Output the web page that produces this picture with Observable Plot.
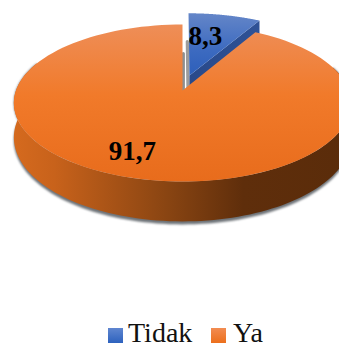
<!DOCTYPE html>
<html>
<head>
<meta charset="utf-8">
<script src="https://cdn.jsdelivr.net/npm/d3@7"></script>
<script src="https://cdn.jsdelivr.net/npm/@observablehq/plot@0.6"></script>
<style>
  html, body { margin: 0; padding: 0; background: #fff; overflow: hidden; }
  #legend { display: flex; height: 25px; font: 28px/20px "Liberation Serif", serif; color: #111; white-space: nowrap; position: relative; }
  #legend span.swatch { position: absolute; top: 10px; width: 15px; height: 15px; }
  #legend span.name { position: absolute; top: 4.5px; }
</style>
</head>
<body>
<div id="chart"></div>
<div id="legend"></div>
<script>
// Share of answers, in percent
const categories = ["Tidak", "Ya"];
const values = [8.3, 91.7];
const gradients = ["url(#blueTop)", "url(#orangeTop)"];

const width = 339, height = 318;

// Tilted-disc projection: u, v are unit-disc coordinates, lift is the drop below the top face
const cx = 182, cy = 90, rx = 166.5, ry = 76.5, tilt = 0.159, depth = 33.6;
const project = (u, v, lift = 0) => {
  const d = 1 + tilt * v;
  return {x: cx + rx * u / d, y: cy + (lift - ry * v) / d};
};

const slices = d3.pie().sort(null).value((d) => d)(values);
const [tidak, ya] = slices;
const pull = {u: 0.043, v: 0.202}; // the small slice is pulled out of the disc

const arcPoints = (a0, a1, lift = 0, shift = {u: 0, v: 0}) =>
  d3.range(0, 121).map((i) => {
    const a = a0 + (a1 - a0) * i / 120;
    return project(Math.sin(a) + shift.u, Math.cos(a) + shift.v, lift);
  });
const hub = (lift = 0, shift = {u: 0, v: 0}) => project(shift.u, shift.v, lift);

// Top faces
const yaFace = [hub(), ...arcPoints(ya.startAngle, ya.endAngle)];
const tidakFace = [hub(0, pull), ...arcPoints(tidak.startAngle, tidak.endAngle, 0, pull)];

// Outer wall of the large slice, front half only
const wallFrom = 1.25, wallTo = 5.1;
const yaWall = [...arcPoints(wallFrom, wallTo), ...arcPoints(wallFrom, wallTo, depth).reverse()];
const yaShadow = [...arcPoints(wallFrom, wallTo, 0), ...arcPoints(wallFrom, wallTo, depth + 2.5).reverse()];

// Cut face of the pulled slice, along its leading radius
const edge = (lift) => {
  const a = tidak.endAngle;
  return [hub(lift, pull), project(Math.sin(a) + pull.u, Math.cos(a) + pull.v, lift)];
};
const tidakCut = [...edge(0), ...edge(depth).reverse()];

// Thin shadows cast along the vertical radii behind each slice
const radiusShadow = (shift) => [project(shift.u, 1 + shift.v, depth), hub(depth, shift)];

// Value labels sit on each slice's bisector
const bisector = (s) => (s.startAngle + s.endAngle) / 2;
const labelAt = (s, r, shift = {u: 0, v: 0}) =>
  project(r * Math.sin(bisector(s)) + shift.u, r * Math.cos(bisector(s)) + shift.v);
const labels = [
  {...labelAt(tidak, 0.587, pull), text: String(values[0]).replace(".", ",")},
  {...labelAt(ya, 0.744), text: String(values[1]).replace(".", ",")}
];

const defs = () => {
  const el = d3.create("svg:defs");
  el.html(`
    <linearGradient id="orangeTop" x1="0" y1="0" x2="0" y2="1">
      <stop offset="0" stop-color="#ee8e58"/><stop offset="0.45" stop-color="#f17a2a"/><stop offset="1" stop-color="#e86c1c"/>
    </linearGradient>
    <linearGradient id="blueTop" x1="0" y1="0" x2="0" y2="1">
      <stop offset="0" stop-color="#6486c8"/><stop offset="0.6" stop-color="#3c6ac0"/><stop offset="1" stop-color="#2d5fba"/>
    </linearGradient>
    <linearGradient id="orangeWall" x1="0" y1="0" x2="1" y2="0">
      <stop offset="0" stop-color="#d56a1e"/><stop offset="0.12" stop-color="#c8621b"/><stop offset="0.45" stop-color="#8a4512"/>
      <stop offset="0.68" stop-color="#5f2e0b"/><stop offset="1" stop-color="#5a2c0a"/>
    </linearGradient>
    <linearGradient id="blueCut" x1="0" y1="0" x2="1" y2="0">
      <stop offset="0" stop-color="#29498a"/><stop offset="1" stop-color="#2f5296"/>
    </linearGradient>`);
  return el.node();
};

const outline = (points, fill, extra = {}) =>
  Plot.line(points, {x: "x", y: "y", fill, stroke: "none", ...extra});

const chart = Plot.plot({
  width, height,
  margin: 0,
  x: {domain: [0, width], range: [0, width], axis: null},
  y: {domain: [0, height], range: [0, height], axis: null},
  marks: [
    defs,
    outline(yaShadow, "#6e7378", {imageFilter: "blur(1.2px)"}),
    Plot.line(radiusShadow({u: 0, v: 0}), {x: "x", y: "y", stroke: "#8f8f8f", strokeWidth: 3.2, dx: 0.8, imageFilter: "blur(0.4px)"}),
    Plot.line(radiusShadow(pull), {x: "x", y: "y", stroke: "#9c9c9c", strokeWidth: 3.2, dx: -1.2, imageFilter: "blur(0.4px)"}),
    outline(tidakCut, "url(#blueCut)"),
    outline(tidakFace, gradients[0]),
    outline(yaWall, "url(#orangeWall)"),
    outline(yaFace, gradients[1]),
    Plot.text(labels.slice(0, 1), {x: "x", y: "y", text: "text", dx: -6, dy: -2, fontFamily: "Liberation Serif", fontWeight: "bold", fontSize: 27, fill: "#000"}),
    Plot.text(labels.slice(1), {x: "x", y: "y", text: "text", dx: -14, dy: -1, fontFamily: "Liberation Serif", fontWeight: "bold", fontSize: 27, fill: "#000"})
  ]
});
document.getElementById("chart").append(chart);

// Legend below the plot
const swatchFills = ["linear-gradient(#5f86d0,#2d62be)", "linear-gradient(#f28c52,#ec6f1c)"];
const swatchLeft = [108, 211];
const nameLeft = [128, 233];
const legend = d3.select("#legend");
categories.forEach((name, i) => {
  legend.append("span").attr("class", "swatch").style("left", swatchLeft[i] + "px").style("background", swatchFills[i]);
  legend.append("span").attr("class", "name").style("left", nameLeft[i] + "px").text(name);
});
</script>
</body>
</html>
